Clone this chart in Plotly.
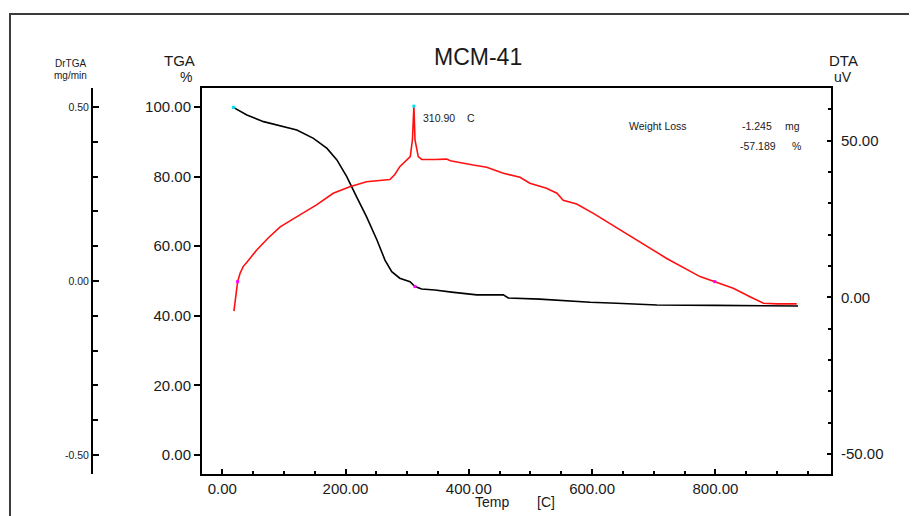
import plotly.graph_objects as go

# ---- data ----
tga_temp = [18, 40, 67, 99, 121, 148, 170, 186, 202, 218, 234, 251, 264, 275, 288,
            304.6, 312.7, 323.6, 345, 372, 394, 413, 456, 464, 515, 559, 597, 640,
            705, 800, 934]
tga_pct = [99.9, 97.7, 95.8, 94.3, 93.4, 91.0, 88.1, 84.8, 80.0, 74.2, 68.5, 61.8,
           56.0, 52.7, 50.8, 49.8, 48.4, 47.7, 47.4, 46.8, 46.3, 46.0, 46.0, 45.1,
           44.8, 44.3, 43.9, 43.6, 43.1, 43.0, 42.8]

dta_temp = [19, 21, 23, 25, 29, 34, 40, 56, 75, 94, 126, 153, 180, 207, 234, 255, 272,
            280, 288, 305, 308.5, 310.9, 312.7, 318, 323.6, 345, 364, 370, 386, 407,
            429, 456, 483, 499, 526, 543, 553, 575, 602, 624, 645, 667, 721, 775, 799,
            829, 856, 878, 900, 932]
dta_uv = [-4.4, -1.0, 2.9, 5.0, 7.7, 9.8, 11.2, 15.1, 19.0, 22.5, 26.3, 29.5, 33.2,
          35.3, 36.9, 37.4, 37.6, 39.2, 41.7, 44.9, 50.2, 61.0, 50.2, 44.9, 44.0, 44.0,
          44.1, 43.6, 42.9, 42.2, 41.5, 39.6, 38.3, 36.4, 34.8, 33.2, 31.0, 29.8, 26.8,
          24.1, 21.5, 18.8, 12.4, 6.6, 5.0, 2.9, 0.2, -1.9, -2.1, -2.1]

x_ticks = [0, 200, 400, 600, 800]
tga_ticks = [0, 20, 40, 60, 80, 100]
dta_ticks = [-50, 0, 50]
drtga_ticks = [-0.5, 0, 0.5]

title_text = "MCM-41"
peak_label = "310.90"
weight_loss_mg = "-1.245"
weight_loss_pct = "-57.189"

# ---- layout geometry (pixels); page has an 8px body margin ----
OFF = 8
W, H = 917, 516
L, R, T, B = 52, 94, 80, 50
PW = W - L - R
PH = H - T - B


def px(xp):
    return (xp - OFF - L) / PW


def py(yp):
    return (H - B - (yp - OFF)) / PH


FONT = "Liberation Sans, Arial, sans-serif"
TXT = "#1a1a1a"

fig = go.Figure()

fig.add_trace(go.Scatter(x=tga_temp, y=tga_pct, mode="lines",
                         line=dict(color="black", width=1.6), yaxis="y",
                         showlegend=False, hoverinfo="skip"))
fig.add_trace(go.Scatter(x=dta_temp, y=dta_uv, mode="lines",
                         line=dict(color="#ff1010", width=1.6), yaxis="y2",
                         showlegend=False, hoverinfo="skip"))

# cursor markers
pk = dta_uv.index(max(dta_uv))
fig.add_trace(go.Scatter(x=[tga_temp[0]], y=[tga_pct[0]], mode="markers",
                         marker=dict(color="#00e0f0", size=3, symbol="square"),
                         yaxis="y", showlegend=False, hoverinfo="skip"))
fig.add_trace(go.Scatter(x=[dta_temp[pk]], y=[dta_uv[pk]], mode="markers",
                         marker=dict(color="#00e0f0", size=3, symbol="square"),
                         yaxis="y2", showlegend=False, hoverinfo="skip"))
fig.add_trace(go.Scatter(x=[dta_temp[3], dta_temp[44]], y=[dta_uv[3], dta_uv[44]],
                         mode="markers",
                         marker=dict(color="#ff00ff", size=3, symbol="square"),
                         yaxis="y2", showlegend=False, hoverinfo="skip"))
fig.add_trace(go.Scatter(x=[tga_temp[16]], y=[tga_pct[16]], mode="markers",
                         marker=dict(color="#ff00ff", size=3, symbol="square"),
                         yaxis="y", showlegend=False, hoverinfo="skip"))
# DrTGA axis carrier (invisible)
fig.add_trace(go.Scatter(x=[None], y=[None], yaxis="y3", showlegend=False,
                         hoverinfo="skip"))

tick_font = dict(family=FONT, size=15, color=TXT)

fig.update_layout(
    width=W, height=H,
    margin=dict(l=L, r=R, t=T, b=B),
    paper_bgcolor="white", plot_bgcolor="white",
    showlegend=False,
    xaxis=dict(domain=[px(202), 1], range=[-32.8, 987.5],
               tickvals=x_ticks, ticktext=[f"{v:.2f}" for v in x_ticks],
               ticks="inside", ticklen=5, tickwidth=1.5, tickcolor="black",
               minor=dict(dtick=50, tick0=0, ticks="inside", ticklen=3,
                          tickwidth=1.5, tickcolor="black"),
               showline=True, linecolor="black", linewidth=2, mirror=True,
               showgrid=False, zeroline=False, tickfont=tick_font,
               anchor="y"),
    yaxis=dict(range=[-5.46, 105.46], tickvals=tga_ticks,
               ticktext=[f"{v:.2f}" for v in tga_ticks],
               ticks="outside", ticklen=6, tickwidth=1.5, tickcolor="black",
               showline=True, linecolor="black", linewidth=2,
               showgrid=False, zeroline=False, tickfont=tick_font,
               anchor="x", side="left"),
    yaxis2=dict(range=[-56.4, 66.8], tickvals=dta_ticks,
                ticktext=[f"{v:.2f}" for v in dta_ticks],
                ticks="inside", ticklen=4, tickwidth=1.5, tickcolor="black",
                minor=dict(dtick=10, tick0=0, ticks="inside", ticklen=3,
                           tickwidth=1.5, tickcolor="black"),
                showline=True, linecolor="black", linewidth=2,
                showgrid=False, zeroline=False, tickfont=tick_font,
                ticklabelstandoff=5,
                overlaying="y", side="right", anchor="x"),
    yaxis3=dict(range=[-0.5546, 0.5546], tickvals=drtga_ticks,
                ticktext=[f"{v:.2f}" for v in drtga_ticks],
                ticks="inside", ticklen=6, tickwidth=1.5, tickcolor="black",
                minor=dict(dtick=0.1, tick0=0, ticks="inside", ticklen=5,
                           tickwidth=1.5, tickcolor="black"),
                showline=True, linecolor="black", linewidth=2,
                showgrid=False, zeroline=False,
                tickfont=dict(family=FONT, size=10.5, color=TXT),
                overlaying="y", side="left", anchor="free",
                position=px(92)),
)

# outer frame
fig.add_shape(type="rect", xref="paper", yref="paper",
              x0=px(10), x1=px(935), y0=py(535), y1=py(14),
              line=dict(color="#3c3c3c", width=2), layer="above")


def ann(text, x, y, size, xanchor="center", yanchor="middle", color=TXT):
    fig.add_annotation(text=text, x=px(x), y=py(y), xref="paper", yref="paper",
                       showarrow=False, xanchor=xanchor, yanchor=yanchor,
                       font=dict(family=FONT, size=size, color=color))


ann(title_text, 478, 57, 23)
ann("TGA", 197, 61, 15, xanchor="right")
ann("%", 194, 77, 14, xanchor="right")
ann("DTA", 843, 61, 15)
ann("uV", 843, 77, 14)
ann("DrTGA", 70, 63, 10)
ann("mg/min", 70, 75, 10)
ann("Temp", 492, 502, 14)
ann("[C]", 546, 502, 14)
ann(peak_label, 421, 118, 10.5, xanchor="left")
ann("C", 465, 118, 10.5, xanchor="left")
ann("Weight Loss", 627, 126, 10.5, xanchor="left")
ann(weight_loss_mg, 740, 126, 10.5, xanchor="left")
ann("mg", 783, 126, 10.5, xanchor="left")
ann(weight_loss_pct, 738, 146, 10.5, xanchor="left")
ann("%", 790, 146, 10.5, xanchor="left")

fig.write_html("out.html")
